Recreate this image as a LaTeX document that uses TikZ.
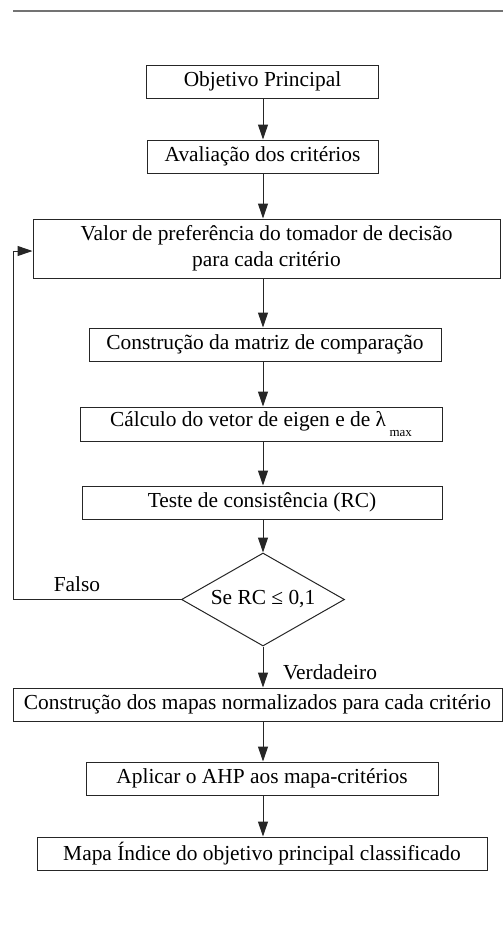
\documentclass[tikz,border=0pt]{standalone}
\usepackage{fontspec}
\setmainfont{Liberation Serif}
\usepackage{tikz}
\usetikzlibrary{shapes.geometric, positioning, arrows.meta}

\begin{document}
\begin{tikzpicture}[x=0.5pt, y=-0.5pt,
    every node/.style={font=\fontsize{10.7pt}{13pt}\selectfont, text=black},
    stepbox/.style={draw=black!85, line width=0.5pt, rectangle, minimum height=16.5pt, inner sep=1pt, align=center},
    testbox/.style={draw=black!85, line width=0.5pt, diamond, aspect=1.75, minimum width=81.5pt, minimum height=46.5pt, inner sep=0pt},
    arr/.style={-{Triangle[length=7.5pt, width=5pt]}, line width=0.5pt, black!85}]
    \useasboundingbox (0,0) rectangle (503,928);

    % Rule at the top
    \coordinate (ruleL) at (13,11);
    \coordinate (ruleR) at (503,11);
    \draw[black!55, line width=0.9pt] (ruleL) -- (ruleR);

    % Main column
    \coordinate (spine) at (263,0);
    \node[stepbox, minimum width=116pt] (Obj) at (262.5,81.5) {Objetivo Principal};
    \node[stepbox, minimum width=115.5pt] (Aval) at (262.5,156.5) {Avaliação dos critérios};
    \node[stepbox, minimum width=233.5pt, minimum height=29.5pt] (Pref) at (266.5,248.5) {Valor de preferência do tomador de decisão\\para cada critério};
    \node[stepbox, minimum width=176pt] (Matriz) at (265,344.5) {Construção da matriz de comparação};
    \node[stepbox, minimum width=181pt, minimum height=17pt] (Eigen) at (261,424) {Cálculo do vetor de eigen e de λ\raisebox{-1ex}{\,\fontsize{6.5pt}{7pt}\selectfont max}};
    \node[stepbox, minimum width=180pt] (Teste) at (262,502.5) {Teste de consistência (RC)};

    % Decision
    \node[testbox] (Se) at (263,599.5) {Se RC ≤ 0,1};
    \node (Falso) at (77,584) {Falso};
    \node (Verd) at (330,672) {Verdadeiro};

    % Output maps
    \node[stepbox, minimum width=244.5pt] (Norm) at (257.5,704.5) {Construção dos mapas normalizados para cada critério};
    \node[stepbox, minimum width=176pt] (AHP) at (262,778.5) {Aplicar o AHP aos mapa-critérios};
    \node[stepbox, minimum width=225pt] (Indice) at (262,853.5) {Mapa Índice do objetivo principal classificado};

    % Arrows down the column
    \draw[arr] (Obj.south -| spine) -- (Aval.north -| spine);
    \draw[arr] (Aval.south -| spine) -- (Pref.north -| spine);
    \draw[arr] (Pref.south -| spine) -- (Matriz.north -| spine);
    \draw[arr] (Matriz.south -| spine) -- (Eigen.north -| spine);
    \draw[arr] (Eigen.south -| spine) -- (Teste.north -| spine);
    \draw[arr] (Teste.south -| spine) -- (Se.north);
    \draw[arr] (Se.south) -- (Norm.north -| spine);
    \draw[arr] (Norm.south -| spine) -- (AHP.north -| spine);
    \draw[arr] (AHP.south -| spine) -- (Indice.north -| spine);

    % Loop back when false
    \coordinate (Back) at (13,599.5);
    \draw[arr] (Se.west) -- (Back) |- ([yshift=-1.25pt]Pref.west);
\end{tikzpicture}
\end{document}
